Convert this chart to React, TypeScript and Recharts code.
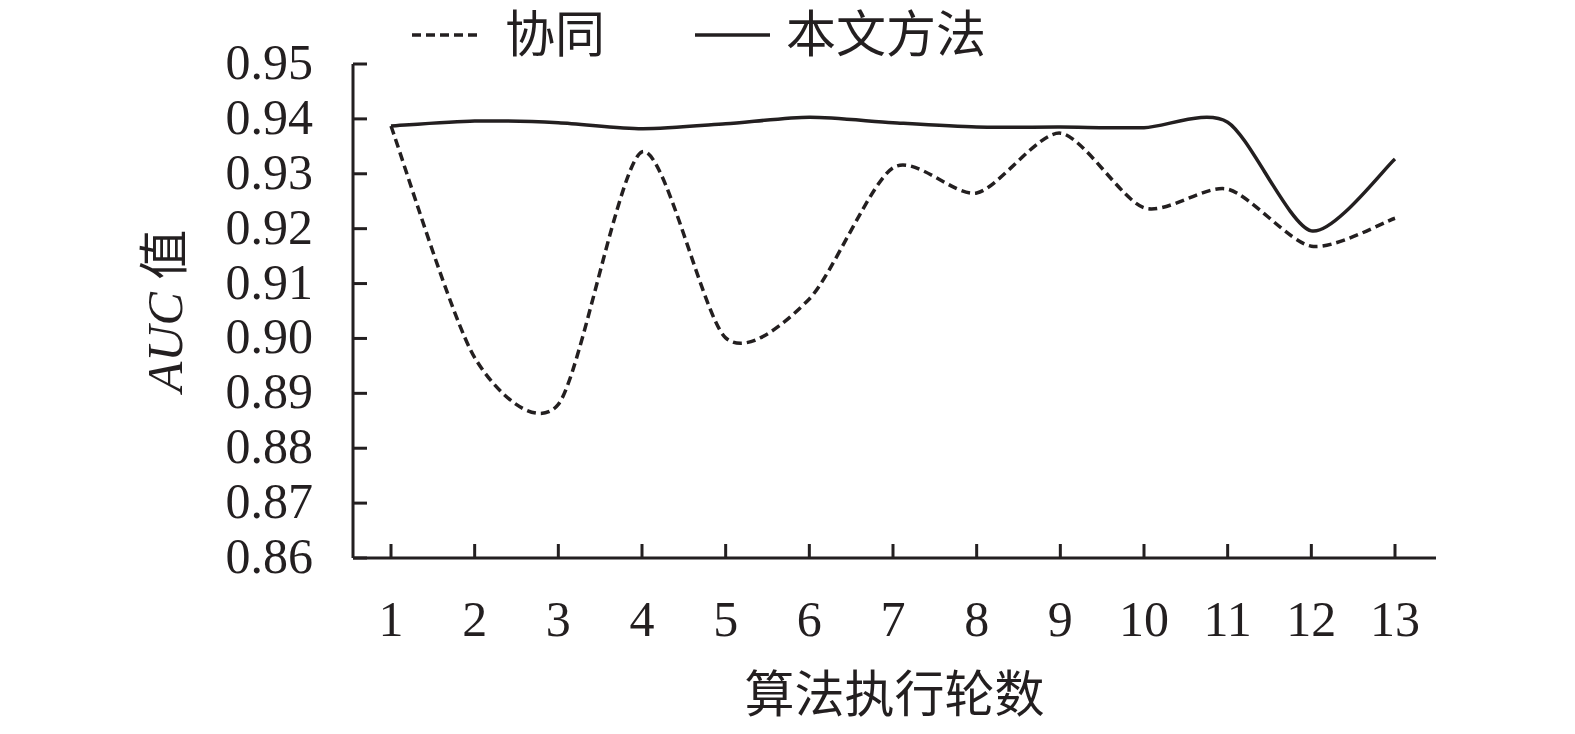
import { LineChart, Line, XAxis, YAxis } from 'recharts';

const rounds = ['1', '2', '3', '4', '5', '6', '7', '8', '9', '10', '11', '12', '13'];
const xieTong = [0.9387, 0.8965, 0.888, 0.934, 0.9001, 0.9072, 0.9311, 0.9265, 0.9374, 0.9238, 0.9272, 0.9168, 0.9219];
const benWen = [0.9387, 0.9396, 0.9393, 0.9382, 0.9391, 0.9403, 0.9393, 0.9385, 0.9385, 0.9384, 0.9394, 0.9196, 0.9327];
const yTicks = [0.86, 0.87, 0.88, 0.89, 0.9, 0.91, 0.92, 0.93, 0.94, 0.95];

const INK = '#231f20';
const FONT = "'Liberation Serif', 'Noto Sans CJK SC', serif";

const series = [
  { key: 'xieTong', name: '协同', dash: '9 5' },
  { key: 'benWen', name: '本文方法', dash: undefined },
];

const data = rounds.map((r, i) => ({ round: r, xieTong: xieTong[i], benWen: benWen[i] }));

// smoothed line like the Excel one (Catmull-Rom style bezier, slightly tighter)
const K = 0.13;
function smoothCurve(context: any) {
  let pts: number[][] = [];
  return {
    areaStart() {},
    areaEnd() {},
    lineStart() {
      pts = [];
    },
    point(x: number, y: number) {
      pts.push([+x, +y]);
    },
    lineEnd() {
      if (!pts.length) return;
      context.moveTo(pts[0][0], pts[0][1]);
      for (let i = 0; i < pts.length - 1; i++) {
        const p0 = pts[Math.max(i - 1, 0)];
        const p1 = pts[i];
        const p2 = pts[i + 1];
        const p3 = pts[Math.min(i + 2, pts.length - 1)];
        context.bezierCurveTo(
          p1[0] + (p2[0] - p0[0]) * K,
          p1[1] + (p2[1] - p0[1]) * K,
          p2[0] - (p3[0] - p1[0]) * K,
          p2[1] - (p3[1] - p1[1]) * K,
          p2[0],
          p2[1],
        );
      }
    },
  };
}

function YTick({ x, y, payload }: any) {
  return (
    <g>
      <line x1={x + 40} x2={x + 54} y1={y} y2={y} stroke={INK} strokeWidth={3} />
      <text x={x} y={y} dy="0.3em" textAnchor="end" fontSize={50} fontFamily={FONT} fill={INK}>
        {Number(payload.value).toFixed(2)}
      </text>
    </g>
  );
}

function XTick({ x, y, payload }: any) {
  return (
    <g>
      <line x1={x} x2={x} y1={y - 42} y2={y - 56} stroke={INK} strokeWidth={3} />
      <text x={x} y={y} dy="0.71em" textAnchor="middle" fontSize={50} fontFamily={FONT} fill={INK}>
        {payload.value}
      </text>
    </g>
  );
}

function YTitle({ viewBox }: any) {
  const cx = viewBox.x + 157;
  const cy = viewBox.y + viewBox.height / 2;
  return (
    <text
      x={cx}
      y={cy}
      transform={`rotate(-90 ${cx} ${cy})`}
      textAnchor="middle"
      dominantBaseline="central"
      fontSize={50}
      fontFamily={FONT}
      fill={INK}
    >
      <tspan fontStyle="italic">AUC</tspan>
      <tspan> 值</tspan>
    </text>
  );
}

function XTitle({ viewBox }: any) {
  return (
    <text
      x={viewBox.x + viewBox.width / 2}
      y={viewBox.y + 137}
      textAnchor="middle"
      dominantBaseline="central"
      fontSize={50}
      fontFamily={FONT}
      fill={INK}
    >
      算法执行轮数
    </text>
  );
}

function LegendRow() {
  const items = [
    { s: series[0], x1: 404, x2: 470, tx: 497 },
    { s: series[1], x1: 687, x2: 762, tx: 778 },
  ];
  return (
    <svg width={1100} height={60} style={{ position: 'absolute', left: 0, top: 0 }}>
      {items.map(({ s, x1, x2, tx }) => (
        <g key={s.key}>
          <line x1={x1} x2={x2} y1={27} y2={27} stroke={INK} strokeWidth={3.5} strokeDasharray={s.dash} />
          <text x={tx} y={27} dominantBaseline="central" fontSize={50} fontFamily={FONT} fill={INK}>
            {s.name}
          </text>
        </g>
      ))}
    </svg>
  );
}

export default function App() {
  return (
    <div style={{ position: 'relative', width: 1559, height: 718, background: '#fff' }}>
      <LineChart
        width={1559}
        height={718}
        data={data}
        margin={{ top: 56, right: 131, left: 0, bottom: 0 }}
      >
        <XAxis
          dataKey="round"
          height={168}
          padding={{ left: 38, right: 41 }}
          axisLine={{ stroke: INK, strokeWidth: 3 }}
          tickLine={false}
          tickSize={0}
          tickMargin={42}
          tick={<XTick />}
          interval={0}
          label={<XTitle />}
        />
        <YAxis
          width={345}
          domain={[0.86, 0.95]}
          ticks={yTicks}
          axisLine={{ stroke: INK, strokeWidth: 3 }}
          tickLine={false}
          tickSize={0}
          tickMargin={40}
          tick={<YTick />}
          interval={0}
          label={<YTitle />}
        />
        {series.map((s) => (
          <Line
            key={s.key}
            dataKey={s.key}
            name={s.name}
            type={smoothCurve as any}
            stroke={INK}
            strokeWidth={3.5}
            strokeDasharray={s.dash}
            dot={false}
            activeDot={false}
            isAnimationActive={false}
          />
        ))}
      </LineChart>
      <LegendRow />
    </div>
  );
}
